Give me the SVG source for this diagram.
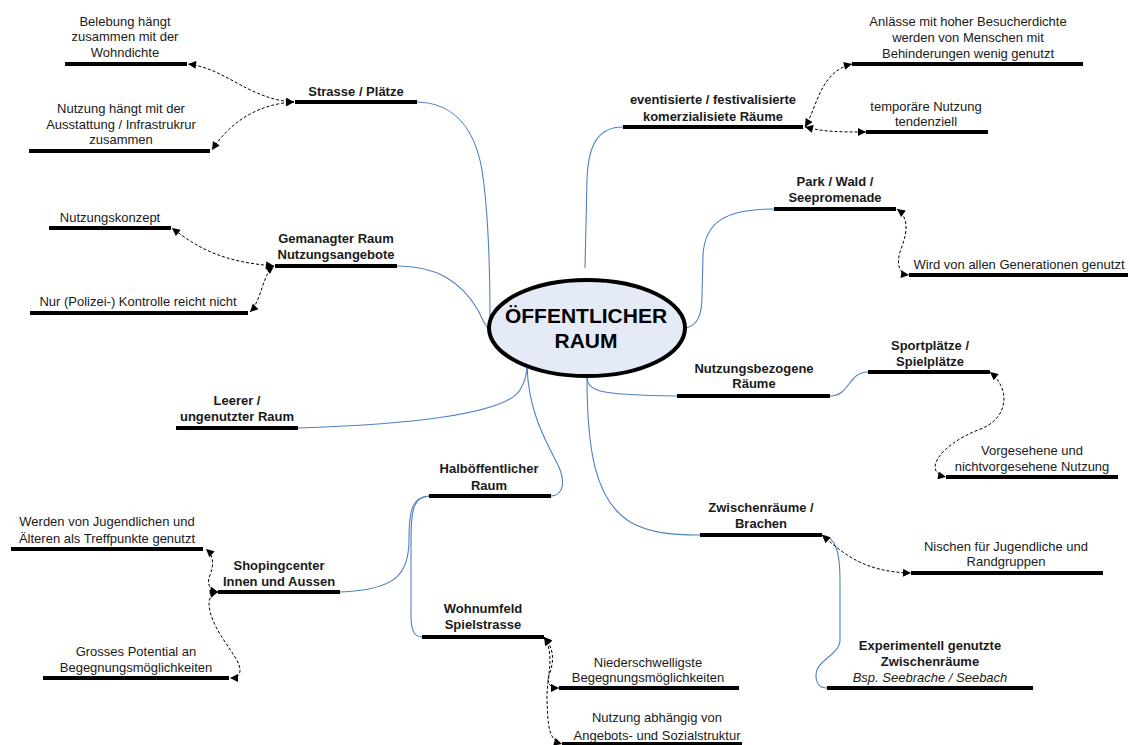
<svg xmlns="http://www.w3.org/2000/svg" width="1130" height="745" viewBox="0 0 1130 745">
<defs>
<marker id="ah" viewBox="0 0 10 10" refX="10" refY="5" markerWidth="9" markerHeight="8" markerUnits="userSpaceOnUse" orient="auto-start-reverse"><path d="M0,0 L10,5 L0,10 z" fill="#000"/></marker>
<style>
text{font-family:"Liberation Sans",Arial,sans-serif;font-size:13px;fill:#1a1a1a;text-anchor:middle}
.b{font-weight:bold}
.i{font-style:italic}
.c{font-weight:bold;font-size:21px;fill:#000}
.bar{stroke:#000;stroke-width:4}
.blue{fill:none;stroke:#4f81c4;stroke-width:1.1}
.dash{fill:none;stroke:#000;stroke-width:1;stroke-dasharray:3 2;marker-start:url(#ah);marker-end:url(#ah)}
</style>
</defs>
<rect width="1130" height="745" fill="#fff"/>
<g id="connectors">
<path class="blue" d="M417,102 C455,103 475,130 482,170 C488,210 490,260 490,320"/>
<path class="blue" d="M397,266 C435,266 460,280 478,310 C483,320 485,326 489,329"/>
<path class="blue" d="M298,428 C400,425 505,415 520,390 C526,380 527,372 527,365"/>
<path class="blue" d="M527,365 C528,410 545,440 558,465 C565,480 565,495 551,496"/>
<path class="blue" d="M429,496 C412,497 409,510 409,540 C409,575 395,590 340,592"/>
<path class="blue" d="M429,496 C414,497 411,508 411,540 L411,615 C411,630 414,637 422,637"/>
<path class="blue" d="M587,377 C588,392 600,395 677,396"/>
<path class="blue" d="M587,377 C587,450 595,500 630,522 C650,533 670,535 700,535"/>
<path class="blue" d="M830,396 C850,396 848,372 868,372"/>
<path class="blue" d="M822,535 C835,537 840,550 840,580 L840,640 C840,655 816,660 816,675 C816,685 820,688 827,688"/>
<path class="blue" d="M686,328 C698,325 702,315 702,295 L703,255 C705,222 725,209 774,209"/>
<path class="blue" d="M623,127 C598,127 588,145 587,180 L585,268"/>
<path class="dash" d="M294,102 C250,100 225,68 188,64"/>
<path class="dash" d="M294,102 C255,104 228,125 212,150"/>
<path class="dash" d="M274,266 C225,262 200,250 172,228"/>
<path class="dash" d="M274,266 C262,275 262,300 250,312"/>
<path class="dash" d="M805,127 C818,105 820,72 852,64"/>
<path class="dash" d="M805,127 C825,132 840,132 866,132"/>
<path class="dash" d="M897,209 C912,220 905,238 900,252 C896,266 900,274 909,275"/>
<path class="dash" d="M990,372 C1012,390 1008,420 978,430 C940,445 922,472 946,477"/>
<path class="dash" d="M822,535 C842,552 862,572 911,573"/>
<path class="dash" d="M218,592 C208,590 207,582 210,575 C214,565 214,556 206,549"/>
<path class="dash" d="M218,592 C205,595 208,610 215,625 C225,645 240,660 240,670 C240,676 236,678 230,678"/>
<path class="dash" d="M544,637 C556,650 553,665 549,675 C546,683 550,688 559,688"/>
<path class="dash" d="M544,637 C556,655 546,680 547,700 C548,725 548,740 562,744"/>
</g>
<g id="center">
<ellipse cx="587" cy="328" rx="98" ry="48" fill="#e4ebf6" stroke="#000" stroke-width="4"/>
<text class="c" x="586" y="323">ÖFFENTLICHER</text>
<text class="c" x="586" y="348">RAUM</text>
</g>
<g id="strasse"><line class="bar" x1="295" y1="102" x2="417" y2="102"/><text class="b" x="356" y="96">Strasse / Plätze</text></g>
<g id="belebung"><line class="bar" x1="65" y1="64" x2="187" y2="64"/><text x="125" y="26">Belebung hängt</text><text x="125" y="41">zusammen mit der</text><text x="125" y="57">Wohndichte</text></g>
<g id="nutzung-ausstattung"><line class="bar" x1="29" y1="151" x2="210" y2="151"/><text x="121" y="113">Nutzung hängt mit der</text><text x="121" y="129">Ausstattung / Infrastrukrur</text><text x="121" y="144">zusammen</text></g>
<g id="gemanagt"><line class="bar" x1="275" y1="266" x2="397" y2="266"/><text class="b" x="336" y="243">Gemanagter Raum</text><text class="b" x="336" y="259">Nutzungsangebote</text></g>
<g id="nutzungskonzept"><line class="bar" x1="49" y1="228" x2="171" y2="228"/><text x="110" y="222">Nutzungskonzept</text></g>
<g id="kontrolle"><line class="bar" x1="30" y1="313" x2="248" y2="313"/><text x="138" y="306">Nur (Polizei-) Kontrolle reicht nicht</text></g>
<g id="leerer"><line class="bar" x1="176" y1="428" x2="298" y2="428"/><text class="b" x="237" y="405">Leerer /</text><text class="b" x="237" y="421">ungenutzter Raum</text></g>
<g id="eventisiert"><line class="bar" x1="623" y1="127" x2="803" y2="127"/><text class="b" x="713" y="104">eventisierte / festivalisierte</text><text class="b" x="713" y="121">komerzialisiete Räume</text></g>
<g id="anlaesse"><line class="bar" x1="852" y1="64" x2="1083" y2="64"/><text x="968" y="26">Anlässe mit hoher Besucherdichte</text><text x="968" y="42">werden von Menschen mit</text><text x="968" y="58">Behinderungen wenig genutzt</text></g>
<g id="temporaer"><line class="bar" x1="866" y1="132" x2="988" y2="132"/><text x="926" y="111">temporäre Nutzung</text><text x="926" y="126">tendenziell</text></g>
<g id="park"><line class="bar" x1="774" y1="209" x2="896" y2="209"/><text class="b" x="835" y="186">Park / Wald /</text><text class="b" x="835" y="202">Seepromenade</text></g>
<g id="generationen"><line class="bar" x1="909" y1="275" x2="1128" y2="275"/><text x="1019" y="269">Wird von allen Generationen genutzt</text></g>
<g id="nutzungsbezogen"><line class="bar" x1="677" y1="396" x2="830" y2="396"/><text class="b" x="754" y="373">Nutzungsbezogene</text><text class="b" x="754" y="388">Räume</text></g>
<g id="sportplaetze"><line class="bar" x1="868" y1="372" x2="990" y2="372"/><text class="b" x="930" y="350">Sportplätze /</text><text class="b" x="930" y="366">Spielplätze</text></g>
<g id="vorgesehen"><line class="bar" x1="946" y1="477" x2="1118" y2="477"/><text x="1032" y="455">Vorgesehene und</text><text x="1032" y="471">nichtvorgesehene Nutzung</text></g>
<g id="halboeffentlich"><line class="bar" x1="429" y1="496" x2="551" y2="496"/><text class="b" x="489" y="473">Halböffentlicher</text><text class="b" x="489" y="490">Raum</text></g>
<g id="treffpunkte"><line class="bar" x1="11" y1="549" x2="203" y2="549"/><text x="107" y="526">Werden von Jugendlichen und</text><text x="107" y="543">Älteren als Treffpunkte genutzt</text></g>
<g id="shopingcenter"><line class="bar" x1="218" y1="592" x2="340" y2="592"/><text class="b" x="279" y="570">Shopingcenter</text><text class="b" x="279" y="586">Innen und Aussen</text></g>
<g id="potential"><line class="bar" x1="43" y1="678" x2="229" y2="678"/><text x="136" y="656">Grosses Potential an</text><text x="136" y="672">Begegnungsmöglichkeiten</text></g>
<g id="wohnumfeld"><line class="bar" x1="422" y1="637" x2="544" y2="637"/><text class="b" x="483" y="613">Wohnumfeld</text><text class="b" x="483" y="629">Spielstrasse</text></g>
<g id="niederschwellig"><line class="bar" x1="559" y1="688" x2="739" y2="688"/><text x="648" y="667">Niederschwelligste</text><text x="648" y="682">Begegnungsmöglichkeiten</text></g>
<g id="angebotsstruktur"><line class="bar" x1="562" y1="744" x2="742" y2="744"/><text x="657" y="722">Nutzung abhängig von</text><text x="657" y="740">Angebots- und Sozialstruktur</text></g>
<g id="zwischenraeume"><line class="bar" x1="700" y1="535" x2="822" y2="535"/><text class="b" x="761" y="512">Zwischenräume /</text><text class="b" x="761" y="528">Brachen</text></g>
<g id="nischen"><line class="bar" x1="911" y1="573" x2="1103" y2="573"/><text x="1006" y="551">Nischen für Jugendliche und</text><text x="1006" y="566">Randgruppen</text></g>
<g id="experimentell"><line class="bar" x1="827" y1="688" x2="1033" y2="688"/><text class="b" x="930" y="650">Experimentell genutzte</text><text class="b" x="930" y="666">Zwischenräume</text><text class="i" x="930" y="682">Bsp. Seebrache / Seebach</text></g>
</svg>
